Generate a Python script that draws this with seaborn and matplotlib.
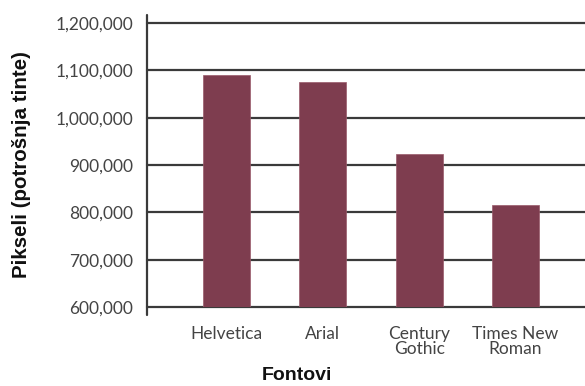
import matplotlib
matplotlib.use("Agg")
import matplotlib.pyplot as plt
import seaborn as sns
import pandas as pd
from matplotlib.ticker import FuncFormatter

fonts = ["Helvetica", "Arial", "Century\nGothic", "Times New\nRoman"]
pixels = [1090000, 1075000, 923000, 816000]
y_ticks = [600000, 700000, 800000, 900000, 1000000, 1100000, 1200000]

df = pd.DataFrame({"font": fonts, "pixels": pixels})

sns.set_theme(style="white")
plt.rcParams["font.family"] = ["Lato", "DejaVu Sans"]

fig = plt.figure(figsize=(5.85, 3.86), dpi=100)
ax = fig.add_axes([0.2513, 0.2047, 0.7487, 0.7357])

sns.barplot(data=df, x="font", y="pixels", color="#7e3d4f", saturation=1,
            width=0.49, edgecolor="#9a5a6a", linewidth=0.5, ax=ax, zorder=3)

ax.set_ylim(600000, 1200000)
ax.set_xlim(-0.825, 3.72)
ax.set_yticks(y_ticks)
ax.yaxis.set_major_formatter(FuncFormatter(lambda v, p: f"{int(v):,}"))
ax.grid(axis="y", color="#3a3a3a", linewidth=1.6)
ax.grid(axis="x", visible=False)
ax.set_axisbelow(True)
for ln in ax.get_ygridlines():
    ln.set_clip_on(False)

for s in ["top", "right", "bottom", "left"]:
    ax.spines[s].set_visible(False)
ax.plot([0, 0], [-0.027, 1.027], transform=ax.transAxes, color="#3a3a3a",
        linewidth=1.6, clip_on=False, zorder=4)

ax.tick_params(axis="y", length=0, pad=10, labelsize=12.5, labelcolor="#444444")
ax.tick_params(axis="x", length=0, pad=14, labelsize=12.5, labelcolor="#444444")
for t in ax.get_xticklabels():
    t.set_multialignment("center")
    t.set_linespacing(0.9)

ax.set_ylabel("Pikseli (potrošnja tinte)", family=["Liberation Sans", "DejaVu Sans"],
              fontweight="bold", fontsize=14.8, color="#111111")
ax.yaxis.set_label_coords(-0.265, 0.5)
ax.set_xlabel("Fontovi", family=["Liberation Sans", "DejaVu Sans"],
              fontweight="bold", fontsize=14, color="#111111")
ax.xaxis.set_label_coords(0.342, -0.212)

fig.savefig("out.png", dpi=100)
